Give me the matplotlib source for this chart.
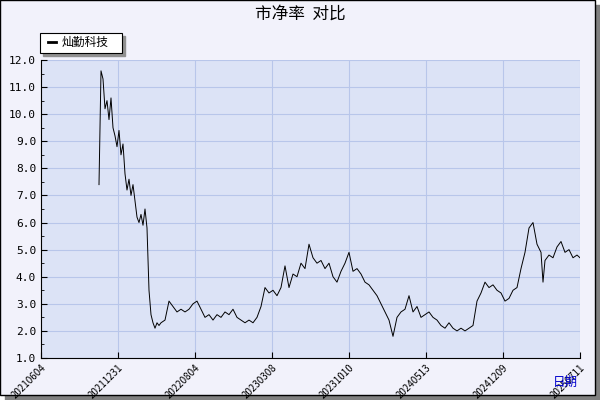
import matplotlib
matplotlib.use("Agg")
import matplotlib.pyplot as plt
from matplotlib.patches import Rectangle
import numpy as np

plt.rcParams['font.family'] = ['Noto Sans CJK SC', 'DejaVu Sans']

tick_labels = ["20210604","20211231","20220804","20230308","20231010","20240513","20241209","20250711"]
# trading-day index (0..539 covers the axis; tick every 77)
day = [58,59,60,62,64,66,68,70,72,74,76,78,80,82,84,86,88,90,92,94,96,98,100,102,104,106,108,110,112,114,116,118,120,124,128,132,136,140,144,148,152,156,160,164,168,172,176,180,184,188,192,196,200,204,208,212,216,220,224,228,232,236,240,244,248,252,256,260,264,268,272,276,280,284,288,292,296,300,304,308,312,316,320,324,328,332,336,340,344,348,352,356,360,364,368,372,376,380,384,388,392,396,400,404,408,412,416,420,424,428,432,436,440,444,448,452,456,460,464,468,472,476,480,484,488,492,496,500,502,504,508,512,516,520,524,528,532,536,539]
pb = [7.4,9.5,11.6,11.3,10.2,10.5,9.8,10.6,9.5,9.2,8.8,9.4,8.5,8.9,7.8,7.2,7.6,7.0,7.4,6.8,6.2,6.0,6.3,5.9,6.5,5.8,3.5,2.6,2.3,2.1,2.3,2.2,2.3,2.4,3.1,2.9,2.7,2.8,2.7,2.8,3.0,3.1,2.8,2.5,2.6,2.4,2.6,2.5,2.7,2.6,2.8,2.5,2.4,2.3,2.4,2.3,2.5,2.9,3.6,3.4,3.5,3.3,3.6,4.4,3.6,4.1,4.0,4.5,4.3,5.2,4.7,4.5,4.6,4.3,4.5,4.0,3.8,4.2,4.5,4.9,4.2,4.3,4.1,3.8,3.7,3.5,3.3,3.0,2.7,2.4,1.8,2.5,2.7,2.8,3.3,2.7,2.9,2.5,2.6,2.7,2.5,2.4,2.2,2.1,2.3,2.1,2.0,2.1,2.0,2.1,2.2,3.1,3.4,3.8,3.6,3.7,3.5,3.4,3.1,3.2,3.5,3.6,4.3,4.9,5.8,6.0,5.2,4.9,3.8,4.6,4.8,4.7,5.1,5.3,4.9,5.0,4.7,4.8,4.7]

fig = plt.figure(figsize=(6,4), dpi=100, facecolor='white')
fig.patches.append(Rectangle((5/600,0), 595/600, 395/400, transform=fig.transFigure, color='#808080', zorder=-2))
fig.patches.append(Rectangle((0,5/400), 595/600, 395/400, transform=fig.transFigure, facecolor='#f2f2fb', edgecolor='black', lw=1, zorder=-1))

ax = fig.add_axes([41/600, 42/400, 539/600, 298/400])
ax.set_facecolor('#dce3f6')
ax.plot(day, pb, color='black', lw=0.7)
ax.set_xlim(0, 539)
ax.set_ylim(1.0, 12.0)
ax.set_yticks(np.arange(1.0, 12.01, 1.0))
ax.set_yticklabels([f"{v:.1f}" for v in np.arange(1.0, 12.01, 1.0)], fontsize=8, family='DejaVu Sans Mono')
ax.set_yticks(np.arange(1.5, 12, 1.0), minor=True)
ax.set_xticks(np.arange(0, 540, 77))
ax.set_xticklabels(tick_labels, rotation=45, ha='right', fontsize=7, rotation_mode='anchor')
for lab in ax.get_xticklabels():
    lab.set_x(lab.get_position()[0])
ax.grid(True, color='#b8c6ea', lw=0.8)
ax.tick_params(direction='in', length=4)
ax.tick_params(which='minor', direction='in', length=2)
for s in ['top','right']:
    ax.spines[s].set_visible(False)

fig.text(0.5, 0.965, "市净率  对比", ha='center', va='center', fontsize=12)
fig.text(565/600, 18/400, "日期", ha='center', va='center', fontsize=9, color='#0000cc')

fig.patches.append(Rectangle((43/600, 344/400), 82/600, 20/400, transform=fig.transFigure, color='#909090', zorder=1))
fig.patches.append(Rectangle((40/600, 347/400), 82/600, 20/400, transform=fig.transFigure, facecolor='white', edgecolor='black', lw=0.8, zorder=2))
fig.lines.append(plt.Line2D([48/600, 56/600], [358/400, 358/400], transform=fig.transFigure, color='black', lw=2, zorder=3))
fig.text(62/600, 358/400, "灿勤科技", va='center', fontsize=8.5, zorder=3)

fig.savefig("out.png", dpi=100)
